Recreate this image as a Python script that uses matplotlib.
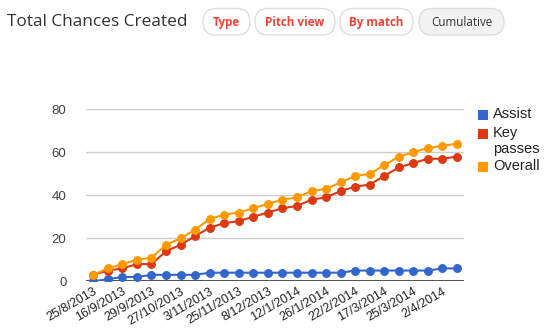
import matplotlib
matplotlib.use("Agg")
import matplotlib.pyplot as plt
from matplotlib.patches import FancyBboxPatch, Rectangle

dates = ["25/8/2013", "", "16/9/2013", "", "29/9/2013", "", "27/10/2013", "",
         "3/11/2013", "", "25/11/2013", "", "8/12/2013", "", "12/1/2014", "",
         "26/1/2014", "", "22/2/2014", "", "17/3/2014", "", "25/3/2014", "",
         "2/4/2014", ""]
assist = [0, 1, 2, 2, 3, 3, 3, 3, 4, 4, 4, 4, 4, 4, 4, 4, 4, 4, 5, 5, 5, 5, 5, 5, 6, 6]
key_passes = [3, 5, 6, 8, 8, 14, 17, 21, 25, 27, 28, 30, 32, 34, 35, 38, 39, 42, 44, 45,
              49, 53, 55, 57, 57, 58]
overall = [3, 6, 8, 10, 11, 17, 20, 24, 29, 31, 32, 34, 36, 38, 39, 42, 43, 46, 49, 50,
           54, 58, 60, 62, 63, 64]
series_names = ["Assist", "Key\npasses", "Overall"]
colors = ["#3366cc", "#dc3912", "#ff9900"]
yticks = [0, 20, 40, 60, 80]
buttons = ["Type", "Pitch view", "By match", "Cumulative"]

W, H = 553, 334
fig = plt.figure(figsize=(W / 100, H / 100), dpi=100)
fig.patch.set_facecolor("white")

# overlay axes in pixel coordinates for header / legend
ov = fig.add_axes([0, 0, 1, 1], zorder=5)
ov.set_xlim(0, W)
ov.set_ylim(H, 0)
ov.axis("off")
ov.patch.set_alpha(0)

ax = fig.add_axes([86 / W, 1 - 281.3 / H, (464.3 - 86) / W, (281.3 - 109.3) / H])
x = list(range(len(dates)))
for vals, c in zip([assist, key_passes, overall], colors):
    ax.plot(x, vals, color=c, lw=1.5, marker="o", ms=5.4, mec=c, mfc=c, zorder=3,
            solid_joinstyle="round")

ax.set_xlim(-0.5, len(dates) - 0.5)
ax.set_ylim(0, 80)
ax.set_yticks(yticks)
ax.set_yticklabels([str(v) for v in yticks], fontsize=9.5, color="#444444",
                   family="Liberation Sans")
for v in yticks[1:]:
    ax.axhline(v, color="#cccccc", lw=1, zorder=1)
ax.axhline(0, color="#333333", lw=1.2, zorder=2)
for s in ax.spines.values():
    s.set_visible(False)
ax.tick_params(axis="y", length=0, pad=14)
ax.tick_params(axis="x", length=0, pad=3)
ax.set_xticks(x)
ax.set_xticklabels(dates, rotation=30, ha="right", rotation_mode="anchor",
                   fontsize=9, color="#222222", family="Liberation Sans")

# title
ov.text(7, 22, "Total Chances Created", fontsize=12.4, color="#333333",
        family="Open Sans", va="center", ha="left")

# buttons
btn_x = [(203, 250), (255, 335), (340, 413), (419, 504)]
y0, y1 = 8.5, 35
for (x0, x1), label in zip(btn_x, buttons):
    active = label == "Cumulative"
    r = (y1 - y0) / 2
    p = FancyBboxPatch((x0 + r, y0 + r), (x1 - x0) - 2 * r, 0.0001,
                       boxstyle=f"round,pad={r},rounding_size={r}",
                       facecolor="#f2f2f2" if active else "white",
                       edgecolor="#dddddd", lw=1)
    ov.add_patch(p)
    ov.text((x0 + x1) / 2, 22.5, label, fontsize=8.4,
            color="#333333" if active else "#f44336",
            weight="normal" if active else "bold",
            family="Open Sans", ha="center", va="center")

# legend
leg_y = [115, 134, 167]
for (ly, name, c) in zip(leg_y, series_names, colors):
    ov.add_patch(Rectangle((478, ly - 5), 10, 10, facecolor=c, edgecolor="none"))
    ov.text(493, ly - 8, name, fontsize=10.5, color="#222222",
            family="Liberation Sans", ha="left", va="top", linespacing=1.2)

fig.savefig("out.png", dpi=100)
